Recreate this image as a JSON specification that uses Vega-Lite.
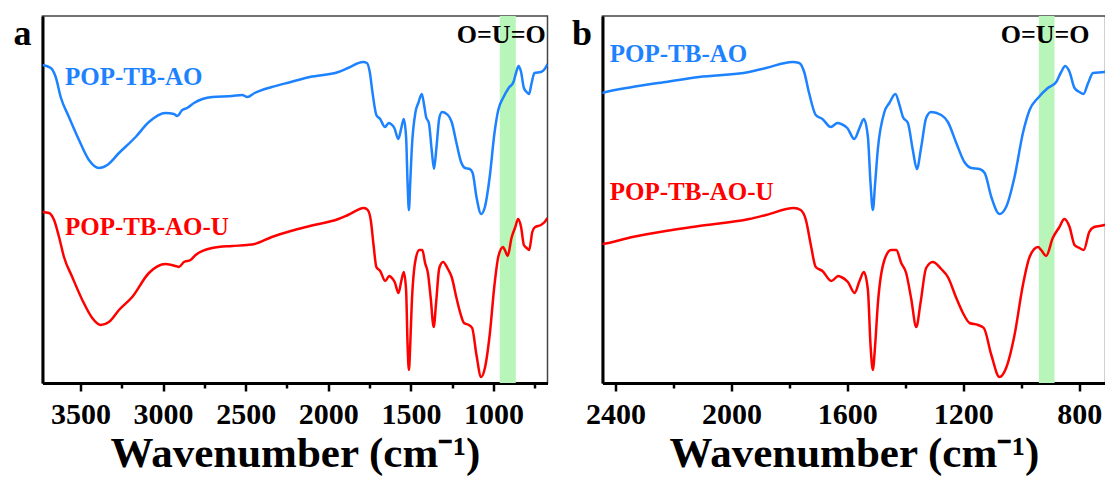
{
  "$schema": "https://vega.github.io/schema/vega-lite/v6.json",
  "background": "white",
  "padding": {"left": 12.5, "top": 15, "right": 0, "bottom": 0},
  "bounds": "flush",
  "spacing": 55,
  "config": {
    "font": "Liberation Serif",
    "view": {"stroke": "#444", "strokeWidth": 1.5},
    "axis": {
      "domainColor": "black", "domainWidth": 3, "tickColor": "black", "tickWidth": 2.5,
      "labelFont": "Liberation Serif", "labelFontWeight": "bold", "labelFontSize": 30, "labelColor": "black",
      "titleFont": "Liberation Serif", "titleFontWeight": "bold", "titleFontSize": 43, "titleColor": "black",
      "grid": false
    },
    "text": {"font": "Liberation Serif", "fontWeight": "bold", "baseline": "alphabetic"}
  },
  "datasets": {
    "ir": [
      {"series": "POP-TB-AO", "wavenumber": 3730, "T": 318},
      {"series": "POP-TB-AO", "wavenumber": 3680, "T": 315},
      {"series": "POP-TB-AO", "wavenumber": 3650, "T": 306},
      {"series": "POP-TB-AO", "wavenumber": 3620, "T": 286},
      {"series": "POP-TB-AO", "wavenumber": 3570, "T": 266},
      {"series": "POP-TB-AO", "wavenumber": 3509, "T": 243},
      {"series": "POP-TB-AO", "wavenumber": 3449, "T": 223},
      {"series": "POP-TB-AO", "wavenumber": 3388, "T": 215},
      {"series": "POP-TB-AO", "wavenumber": 3338, "T": 218},
      {"series": "POP-TB-AO", "wavenumber": 3267, "T": 230},
      {"series": "POP-TB-AO", "wavenumber": 3166, "T": 246},
      {"series": "POP-TB-AO", "wavenumber": 3086, "T": 261},
      {"series": "POP-TB-AO", "wavenumber": 2985, "T": 270},
      {"series": "POP-TB-AO", "wavenumber": 2934, "T": 269},
      {"series": "POP-TB-AO", "wavenumber": 2915, "T": 267},
      {"series": "POP-TB-AO", "wavenumber": 2884, "T": 273},
      {"series": "POP-TB-AO", "wavenumber": 2854, "T": 275},
      {"series": "POP-TB-AO", "wavenumber": 2813, "T": 280},
      {"series": "POP-TB-AO", "wavenumber": 2703, "T": 286},
      {"series": "POP-TB-AO", "wavenumber": 2582, "T": 287},
      {"series": "POP-TB-AO", "wavenumber": 2521, "T": 288},
      {"series": "POP-TB-AO", "wavenumber": 2490, "T": 286},
      {"series": "POP-TB-AO", "wavenumber": 2446, "T": 290},
      {"series": "POP-TB-AO", "wavenumber": 2342, "T": 296},
      {"series": "POP-TB-AO", "wavenumber": 2227, "T": 301},
      {"series": "POP-TB-AO", "wavenumber": 2112, "T": 306},
      {"series": "POP-TB-AO", "wavenumber": 1939, "T": 311},
      {"series": "POP-TB-AO", "wavenumber": 1881, "T": 315},
      {"series": "POP-TB-AO", "wavenumber": 1789, "T": 321},
      {"series": "POP-TB-AO", "wavenumber": 1766, "T": 320},
      {"series": "POP-TB-AO", "wavenumber": 1749, "T": 311},
      {"series": "POP-TB-AO", "wavenumber": 1732, "T": 290},
      {"series": "POP-TB-AO", "wavenumber": 1709, "T": 268},
      {"series": "POP-TB-AO", "wavenumber": 1686, "T": 264},
      {"series": "POP-TB-AO", "wavenumber": 1657, "T": 256},
      {"series": "POP-TB-AO", "wavenumber": 1634, "T": 260},
      {"series": "POP-TB-AO", "wavenumber": 1621, "T": 259},
      {"series": "POP-TB-AO", "wavenumber": 1600, "T": 255},
      {"series": "POP-TB-AO", "wavenumber": 1576, "T": 244},
      {"series": "POP-TB-AO", "wavenumber": 1558, "T": 255},
      {"series": "POP-TB-AO", "wavenumber": 1543, "T": 264},
      {"series": "POP-TB-AO", "wavenumber": 1529, "T": 246},
      {"series": "POP-TB-AO", "wavenumber": 1520, "T": 200},
      {"series": "POP-TB-AO", "wavenumber": 1512, "T": 173},
      {"series": "POP-TB-AO", "wavenumber": 1504, "T": 200},
      {"series": "POP-TB-AO", "wavenumber": 1495, "T": 233},
      {"series": "POP-TB-AO", "wavenumber": 1472, "T": 271},
      {"series": "POP-TB-AO", "wavenumber": 1455, "T": 280},
      {"series": "POP-TB-AO", "wavenumber": 1434, "T": 289},
      {"series": "POP-TB-AO", "wavenumber": 1420, "T": 278},
      {"series": "POP-TB-AO", "wavenumber": 1408, "T": 266},
      {"series": "POP-TB-AO", "wavenumber": 1391, "T": 260},
      {"series": "POP-TB-AO", "wavenumber": 1374, "T": 233},
      {"series": "POP-TB-AO", "wavenumber": 1360, "T": 214},
      {"series": "POP-TB-AO", "wavenumber": 1345, "T": 236},
      {"series": "POP-TB-AO", "wavenumber": 1328, "T": 265},
      {"series": "POP-TB-AO", "wavenumber": 1311, "T": 271},
      {"series": "POP-TB-AO", "wavenumber": 1276, "T": 268},
      {"series": "POP-TB-AO", "wavenumber": 1253, "T": 261},
      {"series": "POP-TB-AO", "wavenumber": 1224, "T": 240},
      {"series": "POP-TB-AO", "wavenumber": 1196, "T": 221},
      {"series": "POP-TB-AO", "wavenumber": 1172, "T": 215},
      {"series": "POP-TB-AO", "wavenumber": 1144, "T": 214},
      {"series": "POP-TB-AO", "wavenumber": 1126, "T": 210},
      {"series": "POP-TB-AO", "wavenumber": 1103, "T": 186},
      {"series": "POP-TB-AO", "wavenumber": 1075, "T": 169},
      {"series": "POP-TB-AO", "wavenumber": 1052, "T": 176},
      {"series": "POP-TB-AO", "wavenumber": 1023, "T": 206},
      {"series": "POP-TB-AO", "wavenumber": 994, "T": 250},
      {"series": "POP-TB-AO", "wavenumber": 971, "T": 273},
      {"series": "POP-TB-AO", "wavenumber": 942, "T": 285},
      {"series": "POP-TB-AO", "wavenumber": 908, "T": 295},
      {"series": "POP-TB-AO", "wavenumber": 879, "T": 301},
      {"series": "POP-TB-AO", "wavenumber": 862, "T": 311},
      {"series": "POP-TB-AO", "wavenumber": 848, "T": 317},
      {"series": "POP-TB-AO", "wavenumber": 833, "T": 311},
      {"series": "POP-TB-AO", "wavenumber": 816, "T": 295},
      {"series": "POP-TB-AO", "wavenumber": 799, "T": 291},
      {"series": "POP-TB-AO", "wavenumber": 785, "T": 289},
      {"series": "POP-TB-AO", "wavenumber": 769, "T": 300},
      {"series": "POP-TB-AO", "wavenumber": 752, "T": 310},
      {"series": "POP-TB-AO", "wavenumber": 713, "T": 311},
      {"series": "POP-TB-AO", "wavenumber": 690, "T": 314},
      {"series": "POP-TB-AO", "wavenumber": 673, "T": 319},
      {"series": "POP-TB-AO-U", "wavenumber": 3730, "T": 171},
      {"series": "POP-TB-AO-U", "wavenumber": 3691, "T": 170},
      {"series": "POP-TB-AO-U", "wavenumber": 3660, "T": 163},
      {"series": "POP-TB-AO-U", "wavenumber": 3630, "T": 146},
      {"series": "POP-TB-AO-U", "wavenumber": 3600, "T": 126},
      {"series": "POP-TB-AO-U", "wavenumber": 3550, "T": 106},
      {"series": "POP-TB-AO-U", "wavenumber": 3489, "T": 83},
      {"series": "POP-TB-AO-U", "wavenumber": 3429, "T": 65},
      {"series": "POP-TB-AO-U", "wavenumber": 3378, "T": 58},
      {"series": "POP-TB-AO-U", "wavenumber": 3328, "T": 61},
      {"series": "POP-TB-AO-U", "wavenumber": 3267, "T": 73},
      {"series": "POP-TB-AO-U", "wavenumber": 3187, "T": 86},
      {"series": "POP-TB-AO-U", "wavenumber": 3086, "T": 110},
      {"series": "POP-TB-AO-U", "wavenumber": 2985, "T": 119},
      {"series": "POP-TB-AO-U", "wavenumber": 2924, "T": 117},
      {"series": "POP-TB-AO-U", "wavenumber": 2904, "T": 116},
      {"series": "POP-TB-AO-U", "wavenumber": 2874, "T": 121},
      {"series": "POP-TB-AO-U", "wavenumber": 2834, "T": 123},
      {"series": "POP-TB-AO-U", "wavenumber": 2803, "T": 128},
      {"series": "POP-TB-AO-U", "wavenumber": 2703, "T": 135},
      {"series": "POP-TB-AO-U", "wavenumber": 2582, "T": 137},
      {"series": "POP-TB-AO-U", "wavenumber": 2491, "T": 138},
      {"series": "POP-TB-AO-U", "wavenumber": 2446, "T": 139},
      {"series": "POP-TB-AO-U", "wavenumber": 2342, "T": 146},
      {"series": "POP-TB-AO-U", "wavenumber": 2227, "T": 152},
      {"series": "POP-TB-AO-U", "wavenumber": 2112, "T": 157},
      {"series": "POP-TB-AO-U", "wavenumber": 1939, "T": 164},
      {"series": "POP-TB-AO-U", "wavenumber": 1881, "T": 168},
      {"series": "POP-TB-AO-U", "wavenumber": 1784, "T": 175},
      {"series": "POP-TB-AO-U", "wavenumber": 1761, "T": 173},
      {"series": "POP-TB-AO-U", "wavenumber": 1743, "T": 163},
      {"series": "POP-TB-AO-U", "wavenumber": 1726, "T": 138},
      {"series": "POP-TB-AO-U", "wavenumber": 1709, "T": 116},
      {"series": "POP-TB-AO-U", "wavenumber": 1686, "T": 112},
      {"series": "POP-TB-AO-U", "wavenumber": 1655, "T": 102},
      {"series": "POP-TB-AO-U", "wavenumber": 1631, "T": 107},
      {"series": "POP-TB-AO-U", "wavenumber": 1621, "T": 106},
      {"series": "POP-TB-AO-U", "wavenumber": 1598, "T": 101},
      {"series": "POP-TB-AO-U", "wavenumber": 1575, "T": 90},
      {"series": "POP-TB-AO-U", "wavenumber": 1558, "T": 102},
      {"series": "POP-TB-AO-U", "wavenumber": 1543, "T": 111},
      {"series": "POP-TB-AO-U", "wavenumber": 1529, "T": 93},
      {"series": "POP-TB-AO-U", "wavenumber": 1520, "T": 38},
      {"series": "POP-TB-AO-U", "wavenumber": 1512, "T": 13},
      {"series": "POP-TB-AO-U", "wavenumber": 1504, "T": 38},
      {"series": "POP-TB-AO-U", "wavenumber": 1495, "T": 78},
      {"series": "POP-TB-AO-U", "wavenumber": 1472, "T": 123},
      {"series": "POP-TB-AO-U", "wavenumber": 1449, "T": 133},
      {"series": "POP-TB-AO-U", "wavenumber": 1431, "T": 133},
      {"series": "POP-TB-AO-U", "wavenumber": 1414, "T": 120},
      {"series": "POP-TB-AO-U", "wavenumber": 1397, "T": 110},
      {"series": "POP-TB-AO-U", "wavenumber": 1380, "T": 85},
      {"series": "POP-TB-AO-U", "wavenumber": 1362, "T": 56},
      {"series": "POP-TB-AO-U", "wavenumber": 1347, "T": 81},
      {"series": "POP-TB-AO-U", "wavenumber": 1328, "T": 115},
      {"series": "POP-TB-AO-U", "wavenumber": 1305, "T": 121},
      {"series": "POP-TB-AO-U", "wavenumber": 1276, "T": 114},
      {"series": "POP-TB-AO-U", "wavenumber": 1253, "T": 106},
      {"series": "POP-TB-AO-U", "wavenumber": 1224, "T": 85},
      {"series": "POP-TB-AO-U", "wavenumber": 1201, "T": 70},
      {"series": "POP-TB-AO-U", "wavenumber": 1178, "T": 60},
      {"series": "POP-TB-AO-U", "wavenumber": 1149, "T": 58},
      {"series": "POP-TB-AO-U", "wavenumber": 1129, "T": 55},
      {"series": "POP-TB-AO-U", "wavenumber": 1103, "T": 28},
      {"series": "POP-TB-AO-U", "wavenumber": 1075, "T": 6},
      {"series": "POP-TB-AO-U", "wavenumber": 1052, "T": 15},
      {"series": "POP-TB-AO-U", "wavenumber": 1023, "T": 48},
      {"series": "POP-TB-AO-U", "wavenumber": 994, "T": 98},
      {"series": "POP-TB-AO-U", "wavenumber": 971, "T": 126},
      {"series": "POP-TB-AO-U", "wavenumber": 942, "T": 136},
      {"series": "POP-TB-AO-U", "wavenumber": 931, "T": 133},
      {"series": "POP-TB-AO-U", "wavenumber": 914, "T": 127},
      {"series": "POP-TB-AO-U", "wavenumber": 891, "T": 145},
      {"series": "POP-TB-AO-U", "wavenumber": 868, "T": 156},
      {"series": "POP-TB-AO-U", "wavenumber": 851, "T": 164},
      {"series": "POP-TB-AO-U", "wavenumber": 833, "T": 156},
      {"series": "POP-TB-AO-U", "wavenumber": 816, "T": 138},
      {"series": "POP-TB-AO-U", "wavenumber": 799, "T": 135},
      {"series": "POP-TB-AO-U", "wavenumber": 784, "T": 133},
      {"series": "POP-TB-AO-U", "wavenumber": 765, "T": 151},
      {"series": "POP-TB-AO-U", "wavenumber": 748, "T": 156},
      {"series": "POP-TB-AO-U", "wavenumber": 713, "T": 158},
      {"series": "POP-TB-AO-U", "wavenumber": 690, "T": 161},
      {"series": "POP-TB-AO-U", "wavenumber": 673, "T": 165}
    ]
  },
  "hconcat": [
    {
      "width": 505,
      "height": 367,
      "layer": [
        {
          "data": {"values": [{}]},
          "mark": {"type": "rect", "color": "#b8f5b8"},
          "encoding": {
            "x": {"datum": 962, "type": "quantitative", "scale": {"domain": [3730, 673], "nice": false, "zero": false}},
            "x2": {"datum": 865}
          }
        },
        {
          "data": {"name": "ir"},
          "mark": {"type": "line", "strokeWidth": 2.5, "interpolate": "monotone", "clip": true},
          "encoding": {
            "x": {
              "field": "wavenumber", "type": "quantitative",
              "scale": {"domain": [3730, 673], "nice": false, "zero": false},
              "axis": {
                "title": "Wavenumber (cm⁻¹)",
                "values": [3500, 3250, 3000, 2750, 2500, 2250, 2000, 1750, 1500, 1250, 1000, 750],
                "format": "d",
                "labelExpr": "datum.value % 500 === 0 ? datum.label : ''",
                "labelFont": "Liberation Serif", "labelFontWeight": "bold", "labelFontSize": 30,
                "tickSize": {"condition": {"test": "datum.value % 500 === 0", "value": 8}, "value": 5},
                "labelPadding": 8, "titlePadding": 3,
                "labelOverlap": false, "labelFlush": false, "labelBound": false
              }
            },
            "y": {
              "field": "T", "type": "quantitative",
              "scale": {"domain": [0, 367], "nice": false, "zero": false},
              "axis": {"title": null, "labels": false, "ticks": false, "domain": true}
            },
            "color": {"field": "series", "type": "nominal", "scale": {"domain": ["POP-TB-AO", "POP-TB-AO-U"], "range": ["#1c82ff", "#ff0000"]}, "legend": null}
          }
        },
        {
          "data": {"values": [{}]},
          "mark": {"type": "text", "align": "left", "fontSize": 25, "color": "#1c82ff"},
          "encoding": {"x": {"datum": 3594, "type": "quantitative"}, "y": {"datum": 298, "type": "quantitative"}, "text": {"value": "POP-TB-AO"}}
        },
        {
          "data": {"values": [{}]},
          "mark": {"type": "text", "align": "left", "fontSize": 25, "color": "#ff0000"},
          "encoding": {"x": {"datum": 3594, "type": "quantitative"}, "y": {"datum": 148, "type": "quantitative"}, "text": {"value": "POP-TB-AO-U"}}
        },
        {
          "data": {"values": [{}]},
          "mark": {"type": "text", "align": "right", "fontSize": 26, "color": "black"},
          "encoding": {"x": {"datum": 684, "type": "quantitative"}, "y": {"datum": 340, "type": "quantitative"}, "text": {"value": "O=U=O"}}
        },
        {
          "data": {"values": [{}]},
          "mark": {"type": "text", "align": "left", "fontSize": 36, "color": "black"},
          "encoding": {"x": {"datum": 3905, "type": "quantitative"}, "y": {"datum": 338, "type": "quantitative"}, "text": {"value": "a"}}
        }
      ]
    },
    {
      "width": 503,
      "height": 367,
      "layer": [
        {
          "data": {"values": [{}]},
          "mark": {"type": "rect", "color": "#b8f5b8"},
          "encoding": {
            "x": {"datum": 939, "type": "quantitative", "scale": {"domain": [2445, 709], "nice": false, "zero": false}},
            "x2": {"datum": 885}
          }
        },
        {
          "data": {"name": "ir"},
          "mark": {"type": "line", "strokeWidth": 2.5, "interpolate": "monotone", "clip": true},
          "encoding": {
            "x": {
              "field": "wavenumber", "type": "quantitative",
              "scale": {"domain": [2445, 709], "nice": false, "zero": false},
              "axis": {
                "title": "Wavenumber (cm⁻¹)",
                "values": [2400, 2200, 2000, 1800, 1600, 1400, 1200, 1000, 800],
                "format": "d",
                "labelExpr": "datum.value % 400 === 0 ? datum.label : ''",
                "labelFont": "Liberation Serif", "labelFontWeight": "bold", "labelFontSize": 30,
                "tickSize": {"condition": {"test": "datum.value % 400 === 0", "value": 8}, "value": 5},
                "labelPadding": 8, "titlePadding": 3,
                "labelOverlap": false, "labelFlush": false, "labelBound": false
              }
            },
            "y": {
              "field": "T", "type": "quantitative",
              "scale": {"domain": [0, 367], "nice": false, "zero": false},
              "axis": {"title": null, "labels": false, "ticks": false, "domain": true}
            },
            "color": {"field": "series", "type": "nominal", "scale": {"domain": ["POP-TB-AO", "POP-TB-AO-U"], "range": ["#1c82ff", "#ff0000"]}, "legend": null}
          }
        },
        {
          "data": {"values": [{}]},
          "mark": {"type": "text", "align": "left", "fontSize": 25, "color": "#1c82ff"},
          "encoding": {"x": {"datum": 2420, "type": "quantitative"}, "y": {"datum": 321, "type": "quantitative"}, "text": {"value": "POP-TB-AO"}}
        },
        {
          "data": {"values": [{}]},
          "mark": {"type": "text", "align": "left", "fontSize": 25, "color": "#ff0000"},
          "encoding": {"x": {"datum": 2420, "type": "quantitative"}, "y": {"datum": 183, "type": "quantitative"}, "text": {"value": "POP-TB-AO-U"}}
        },
        {
          "data": {"values": [{}]},
          "mark": {"type": "text", "align": "right", "fontSize": 26, "color": "black"},
          "encoding": {"x": {"datum": 764, "type": "quantitative"}, "y": {"datum": 340, "type": "quantitative"}, "text": {"value": "O=U=O"}}
        },
        {
          "data": {"values": [{}]},
          "mark": {"type": "text", "align": "left", "fontSize": 36, "color": "black"},
          "encoding": {"x": {"datum": 2550, "type": "quantitative"}, "y": {"datum": 338, "type": "quantitative"}, "text": {"value": "b"}}
        }
      ]
    }
  ]
}
